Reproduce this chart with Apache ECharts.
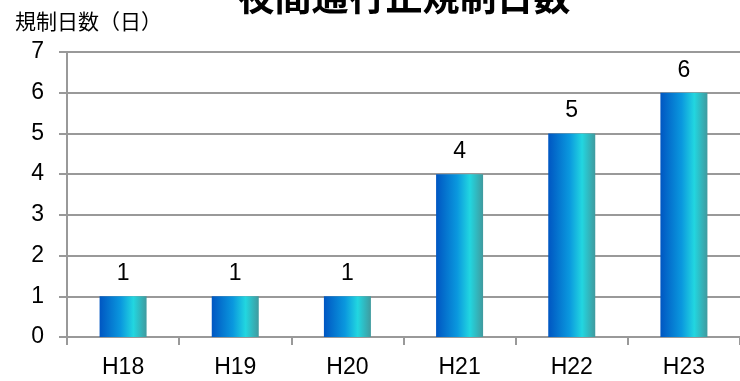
<!DOCTYPE html>
<html><head><meta charset="utf-8">
<script src="https://cdn.jsdelivr.net/npm/echarts@6/dist/echarts.min.js"></script>
<style>html,body{margin:0;padding:0;background:#fff}#c{width:740px;height:381px}</style>
</head><body><div id="c"></div>
<script>
const titleText = '夜間通行止規制日数';
const yAxisName = '規制日数（日）';
const categories = ['H18', 'H19', 'H20', 'H21', 'H22', 'H23'];
const values = [1, 1, 1, 4, 5, 6];
const yTicks = [0, 1, 2, 3, 4, 5, 6, 7];

const FONT = "'Liberation Sans', Arial, 'Noto Sans CJK JP', sans-serif";
const chart = echarts.init(document.getElementById('c'), null, {renderer: 'canvas'});
const gray = '#999999';
chart.setOption({
  animation: false,
  backgroundColor: '#ffffff',
  title: [
    {text: titleText, left: 399, textAlign: 'center', top: -27,
     textStyle: {fontSize: 37, fontWeight: 'bold', color: '#000', fontFamily: "'Noto Sans CJK JP', sans-serif"}},
    {text: yAxisName, left: 10, top: 6,
     textStyle: {fontSize: 21, fontWeight: 'normal', color: '#000', fontFamily: "'Noto Sans CJK JP', sans-serif"}}
  ],
  grid: {left: 67, right: -10, top: 52, bottom: 44, containLabel: false},
  xAxis: {
    type: 'category', data: categories,
    axisLine: {show: true, lineStyle: {color: gray, width: 2}},
    axisTick: {show: true, length: 8, lineStyle: {color: gray, width: 2}},
    axisLabel: {fontSize: 23, color: '#000', margin: 19, fontFamily: FONT}
  },
  yAxis: {
    type: 'value', min: yTicks[0], max: yTicks[yTicks.length - 1], interval: 1,
    axisLine: {show: true, lineStyle: {color: gray, width: 2}},
    axisTick: {show: true, length: 8, lineStyle: {color: gray, width: 2}},
    splitLine: {show: true, lineStyle: {color: gray, width: 2}},
    axisLabel: {fontSize: 23, color: '#000', margin: 23, fontFamily: FONT}
  },
  series: [{
    type: 'bar', data: values, barWidth: 47,
    itemStyle: {
      color: new echarts.graphic.LinearGradient(0, 0, 1, 0, [
        {offset: 0, color: '#0056c2'},
        {offset: 0.45, color: '#0a98de'},
        {offset: 0.72, color: '#22d6e0'},
        {offset: 1, color: '#409a9e'}
      ])
    },
    label: {show: true, position: 'top', distance: 11, fontSize: 23, color: '#000', fontFamily: FONT}
  }]
});
</script></body></html>
